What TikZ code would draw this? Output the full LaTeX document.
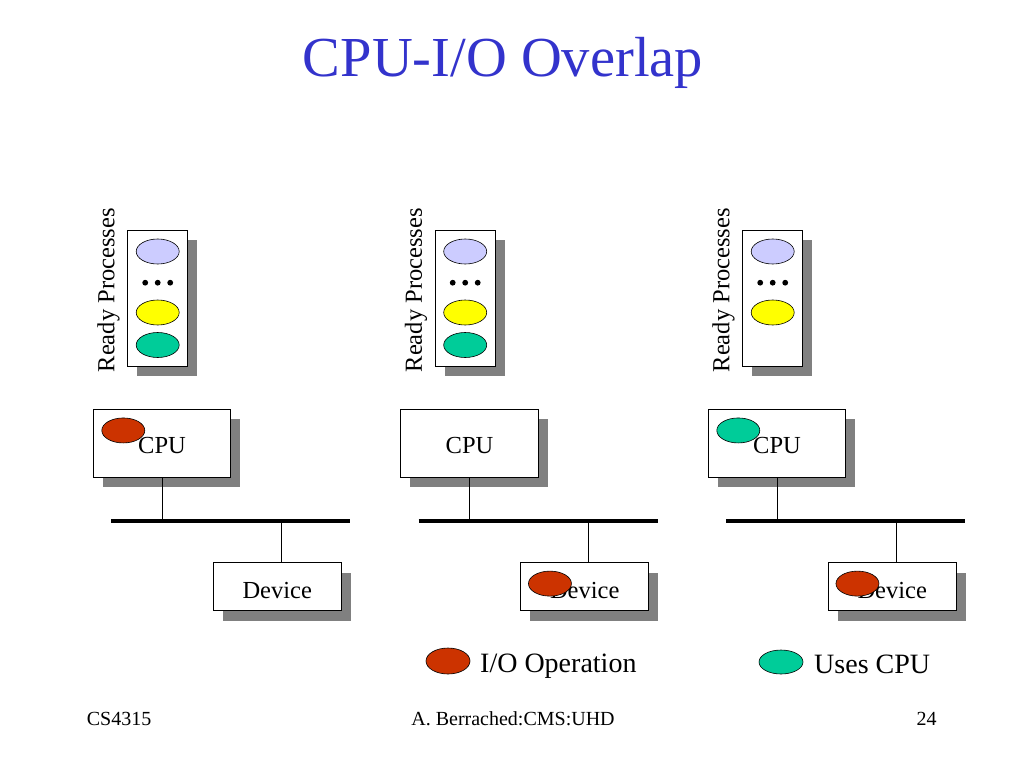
\documentclass[tikz,border=0pt]{standalone}
\usepackage{fontspec}
\setmainfont{Liberation Serif}
\usetikzlibrary{shapes.geometric,shadows,calc}

\definecolor{titleblue}{RGB}{51,51,204}
\definecolor{proclav}{RGB}{204,204,255}
\definecolor{procyellow}{RGB}{255,255,0}
\definecolor{procgreen}{RGB}{0,204,153}
\definecolor{iored}{RGB}{204,51,0}
\definecolor{shadowgray}{RGB}{128,128,128}

\begin{document}
\begin{tikzpicture}[
            x=1pt, y=-1pt,
            every node/.style={font=\fontsize{24.5}{29}\selectfont, inner sep=0pt},
            unitbox/.style={draw, fill=white, line width=0.8pt,
                drop shadow={shadow xshift=9.5pt, shadow yshift=-10pt, fill=shadowgray, opacity=1}},
            cpubox/.style={unitbox, minimum width=137.4pt, minimum height=68.3pt, text height=20pt, text depth=0pt},
            devbox/.style={unitbox, minimum width=127.7pt, minimum height=48pt, text height=23pt, text depth=0pt},
            queuebox/.style={unitbox, minimum width=60pt, minimum height=136pt},
            proc/.style={draw, ellipse, line width=0.6pt, minimum width=43pt, minimum height=25pt},
            bus/.style={line width=4pt},
            tap/.style={line width=0.6pt},
            legendtext/.style={font=\fontsize{28}{33}\selectfont, anchor=base west},
            footer/.style={font=\fontsize{20}{24}\selectfont},
            ]
            \fill[white] (0,0) rectangle (1024,768);
            \useasboundingbox (0,0) rectangle (1024,768);

            \node[font=\fontsize{56.5}{64}\selectfont, text=titleblue, anchor=base] (title) at (503, 76.7) {CPU-I/O Overlap};

            % three snapshots side by side
            \foreach \dx/\i in {0/1, 307.5/2, 615/3} {
                \node[queuebox] (ready\i) at (157.7+\dx, 298) {};
                \node[rotate=90, anchor=base] (readylabel\i) at (114.3+\dx, 290.3) {Ready Processes};
                \node[cpubox] (cpu\i) at (162+\dx, 443.2) {CPU};
                \node[devbox] (dev\i) at (277.2+\dx, 586.7) {Device};
                \coordinate (busw\i) at (111+\dx, 520.7);
                \coordinate (buse\i) at (350+\dx, 520.7);
                \draw[bus] (busw\i) -- (buse\i);
                \draw[tap] (cpu\i.south) -- (cpu\i.south |- busw\i);
                \draw[tap] ([xshift=4pt]dev\i.north) -- ([xshift=4pt]dev\i.north |- busw\i);
                \node[proc, fill=proclav] (first\i) at ($(ready\i.center)+(0,-46.5)$) {};
                \node[proc, fill=procyellow] (second\i) at ($(ready\i.center)+(0,14.5)$) {};
                \foreach \k in {-12.5,0,12.5}
                    \fill ($(ready\i.center)+(\k,-15.3)$) circle (2.9);
            }
            \node[proc, fill=procgreen] (third1) at ($(ready1.center)+(0,47)$) {};
            \node[proc, fill=procgreen] (third2) at ($(ready2.center)+(0,47)$) {};

            % who is running where
            \node[proc, fill=iored] (cpujob1) at ($(cpu1.north west)+(30.4,21.8)$) {};
            \node[proc, fill=iored] (iojob2) at ($(dev2.north west)+(29.5,21.3)$) {};
            \node[proc, fill=procgreen] (cpujob3) at ($(cpu3.north west)+(30.4,21.8)$) {};
            \node[proc, fill=iored] (iojob3) at ($(dev3.north west)+(29.5,21.3)$) {};

            % legend
            \node[proc, fill=iored, minimum width=44pt, minimum height=26pt] (iokey) at (448, 661) {};
            \node[legendtext] (iolabel) at (480, 672.7) {I/O Operation};
            \node[proc, fill=procgreen, minimum width=44pt, minimum height=24pt] (cpukey) at (781, 662) {};
            \node[legendtext] (cpulabel) at (814, 673) {Uses CPU};

            % footer
            \node[footer, anchor=base west] (course) at (86.7, 725) {CS4315};
            \node[footer, anchor=base] (author) at (513, 725) {A. Berrached:CMS:UHD};
            \node[footer, anchor=base east] (page) at (936.7, 725) {24};
        \end{tikzpicture}
\end{document}
